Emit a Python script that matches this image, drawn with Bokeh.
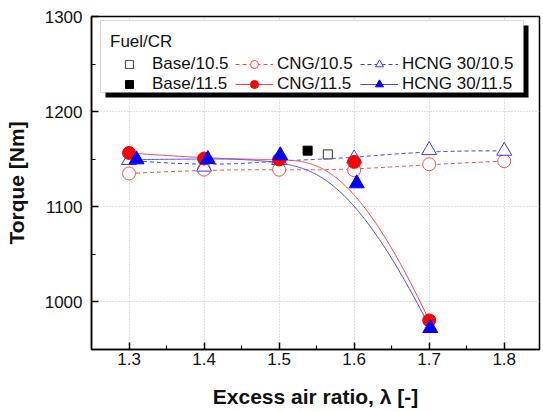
import numpy as np
from bokeh.plotting import figure
from bokeh.models import (Range1d, FixedTicker, Legend, LegendItem, BoxAnnotation)
from bokeh.embed import file_html
from bokeh.resources import INLINE

# ---------------- data ----------------
lam_base105 = [1.565]
tq_base105 = [1155]
lam_base115 = [1.538]
tq_base115 = [1159]

lam_cng105 = [1.3, 1.4, 1.5, 1.6, 1.7, 1.8]
tq_cng105 = [1135, 1139, 1139, 1138.5, 1144.7, 1148]

lam_cng115 = [1.3, 1.4, 1.5, 1.6, 1.7]
tq_cng115 = [1156.6, 1150.7, 1149.7, 1147.2, 980.6]

lam_hcng105 = [1.3, 1.4, 1.5, 1.6, 1.7, 1.8]
tq_hcng105 = [1149, 1142, 1149, 1150.7, 1159.4, 1158.7]

lam_hcng115 = [1.31, 1.405, 1.5015, 1.6035, 1.7015]
tq_hcng115 = [1149.7, 1150, 1154, 1124.5, 972.4]

x_ticks = [1.3, 1.4, 1.5, 1.6, 1.7, 1.8]
x_minor = [1.35, 1.45, 1.55, 1.65, 1.75]
y_ticks = [1000, 1100, 1200, 1300]
y_minor = [950, 1050, 1150, 1250]

FONT = "Liberation Sans"


def bspline(xs, ys, k=3, num=300):
    xs = np.asarray(xs, float)
    ys = np.asarray(ys, float)
    n = len(xs)
    k = min(k, n - 1)
    knots = np.concatenate([np.zeros(k + 1), np.arange(1, n - k),
                            np.full(k + 1, n - k)]).astype(float)
    t = np.linspace(0, n - k, num)
    m = len(knots)
    N = np.zeros((m - 1, num))
    for i in range(m - 1):
        N[i] = (knots[i] <= t) & (t < knots[i + 1])
    last = np.where(knots[:-1] < knots[1:])[0][-1]
    N[last, t >= knots[-1]] = 1.0
    for p in range(1, k + 1):
        Nn = np.zeros((m - 1 - p, num))
        for i in range(m - 1 - p):
            d1 = knots[i + p] - knots[i]
            d2 = knots[i + p + 1] - knots[i + 1]
            a = (t - knots[i]) / d1 * N[i] if d1 > 0 else 0
            b = (knots[i + p + 1] - t) / d2 * N[i + 1] if d2 > 0 else 0
            Nn[i] = a + b
        N = Nn
    return list(N.T @ xs), list(N.T @ ys)


X0, X1 = 1.25, 1.847
Y0, Y1 = 950, 1300
FL, FT = 91, 16
FW, FH = 448, 333

p = figure(width=543, height=412, output_backend="svg", toolbar_location=None,
           x_range=Range1d(X0, X1), y_range=Range1d(Y0, Y1),
           min_border_left=FL, min_border_right=543 - FL - FW, min_border_top=FT,
           min_border_bottom=412 - FT - FH)
p.background_fill_color = "white"
p.border_fill_color = "white"
p.outline_line_color = "black"
p.outline_line_width = 1.5

for ax, tk, mn in ((p.xaxis[0], x_ticks, x_minor), (p.yaxis[0], y_ticks, y_minor)):
    ax.ticker = FixedTicker(ticks=tk, minor_ticks=mn)
    ax.axis_line_color = "black"
    ax.axis_line_width = 1.5
    ax.major_tick_in = 7
    ax.major_tick_out = 0
    ax.minor_tick_in = 4
    ax.minor_tick_out = 0
    ax.major_tick_line_width = 1.5
    ax.minor_tick_line_width = 1.2
    ax.major_tick_line_color = "black"
    ax.minor_tick_line_color = "black"
    ax.major_label_text_font = FONT
    ax.major_label_text_font_size = "17px"
    ax.major_label_text_color = "#111111"
    ax.axis_label_text_font = FONT
    ax.axis_label_text_font_size = "21px"
    ax.axis_label_text_font_style = "bold"
    ax.axis_label_text_color = "#111111"

p.xaxis.axis_label = "Excess air ratio, λ [-]"
p.yaxis.axis_label = "Torque [Nm]"
p.xaxis.major_label_standoff = 3
p.xaxis.axis_label_standoff = 17
p.yaxis.major_label_standoff = 9
p.yaxis.axis_label_standoff = 14

for g in (p.xgrid[0], p.ygrid[0]):
    g.grid_line_color = "#c4c4c4"
    g.grid_line_dash = "1 2"
    g.grid_line_width = 1

RED = "#ff0000"
BLUE = "#0000ff"

# lines
bx, by = bspline(lam_cng105, tq_cng105)
l_cng105 = p.line(bx, by, line_color="#ff4040", line_width=1, line_dash="4 3")
bx, by = bspline(lam_hcng105, tq_hcng105)
l_hcng105 = p.line(bx, by, line_color="#3636ff", line_width=1, line_dash="4 3")
bx, by = bspline(lam_cng115, tq_cng115)
l_cng115 = p.line(bx, by, line_color="#ff4040", line_width=1)
bx, by = bspline(lam_hcng115, tq_hcng115)
l_hcng115 = p.line(bx, by, line_color="#4848ff", line_width=1)

# markers
s_cng105 = p.scatter(lam_cng105, tq_cng105, marker="circle", size=13,
                     fill_color="white", line_color="#ff4d4d", line_width=1)
s_hcng105 = p.scatter(lam_hcng105, tq_hcng105, marker="triangle", size=15,
                      fill_color="white", line_color="#3838ff", line_width=1)
s_base105 = p.scatter(lam_base105, tq_base105, marker="square", size=9,
                      fill_color="white", line_color="#555555", line_width=1.2)
s_base115 = p.scatter(lam_base115, tq_base115, marker="square", size=9,
                      fill_color="black", line_color="black")
s_cng115 = p.scatter(lam_cng115, tq_cng115, marker="circle", size=13,
                     fill_color=RED, line_color=RED)
s_hcng115 = p.scatter(lam_hcng115, tq_hcng115, marker="triangle", size=15,
                      fill_color=BLUE, line_color=BLUE)


# legend frame with shadow (page pixels converted to data units)
def px2x(px):
    return X0 + (px - FL) / FW * (X1 - X0)


def px2y(py):
    return Y1 - (py - FT) / FH * (Y1 - Y0)


shadow = BoxAnnotation(left=px2x(105), right=px2x(528), top=px2y(25), bottom=px2y(97),
                       fill_color="black", fill_alpha=1, line_color=None)
box = BoxAnnotation(left=px2x(100), right=px2x(523), top=px2y(20), bottom=px2y(92),
                    fill_color="white", fill_alpha=1, line_color="#888888",
                    line_width=1)
p.add_layout(shadow)
p.add_layout(box)

items = [
    LegendItem(label="Base/10.5", renderers=[s_base105]),
    LegendItem(label="CNG/10.5", renderers=[l_cng105, s_cng105]),
    LegendItem(label="HCNG 30/10.5", renderers=[l_hcng105, s_hcng105]),
    LegendItem(label="Base/11.5", renderers=[s_base115]),
    LegendItem(label="CNG/11.5", renderers=[l_cng115, s_cng115]),
    LegendItem(label="HCNG 30/11.5", renderers=[l_hcng115, s_hcng115]),
]
legend = Legend(items=items, location=(19, 255), orientation="horizontal", ncols=3,
                title="Fuel/CR", title_text_font=FONT, title_text_font_size="17px",
                title_text_font_style="normal", title_text_color="#111111",
                title_standoff=2,
                label_text_font=FONT, label_text_font_size="17px",
                label_text_color="#111111",
                glyph_width=38, glyph_height=20, label_height=20, label_width=83,
                label_standoff=4, spacing=0, padding=0, margin=0,
                border_line_color=None, background_fill_alpha=0)
p.add_layout(legend)

open("out.html", "w").write(file_html(p, INLINE))
